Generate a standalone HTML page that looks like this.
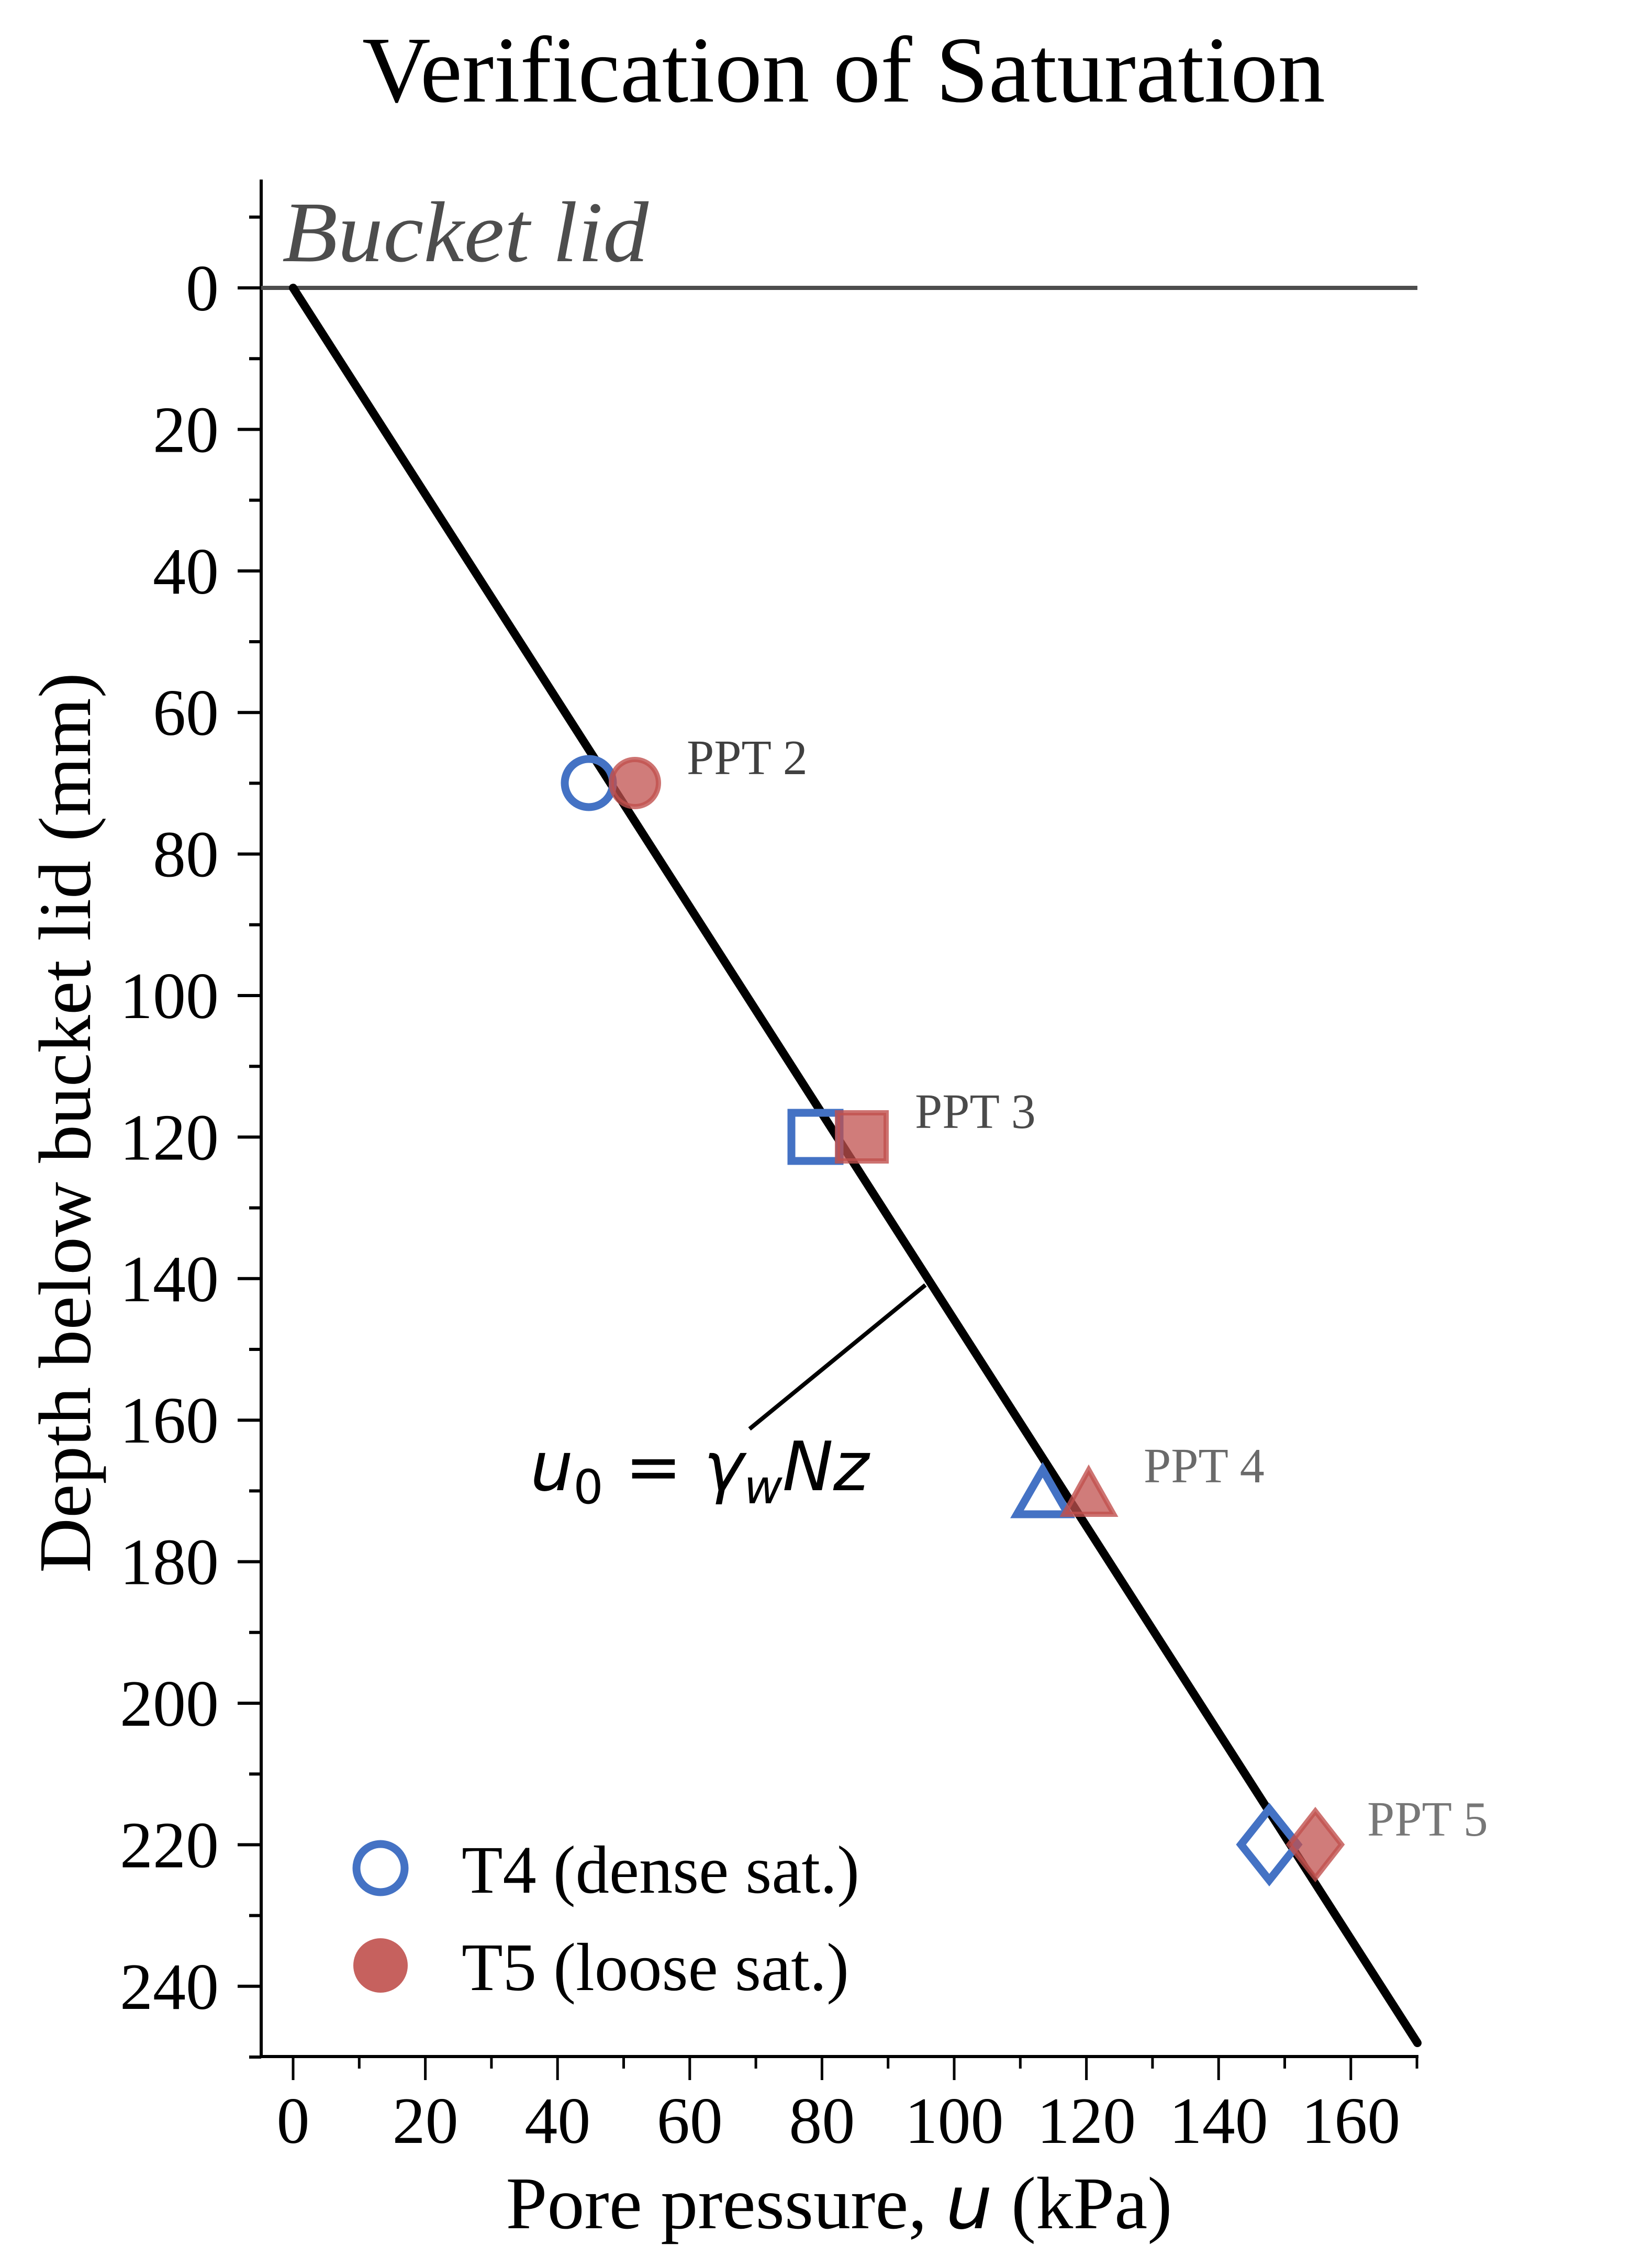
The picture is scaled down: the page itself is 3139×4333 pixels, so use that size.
<!DOCTYPE html>
<html><head><meta charset="utf-8"><style>html,body{margin:0;padding:0;background:#fff}svg{display:block}</style></head>
<body>
<svg width="3139" height="4333" viewBox="0 0 3139 4333" xmlns="http://www.w3.org/2000/svg">
<rect width="3139" height="4333" fill="#fff"/>
<text x="1612" y="194" font-family="Liberation Serif, serif" font-size="180" text-anchor="middle" textLength="1840" lengthAdjust="spacingAndGlyphs">Verification of Saturation</text>
<g stroke="#000" stroke-width="6">
<line x1="499" y1="343" x2="499" y2="3932"/>
<line x1="496" y1="3929" x2="2710" y2="3929"/>
</g>
<g id="yt" stroke="#000" stroke-width="6"></g>
<g id="xt" stroke="#000" stroke-width="5"></g>
<g id="yl" font-family="Liberation Serif, serif" font-size="126" text-anchor="end"></g>
<g id="xl" font-family="Liberation Serif, serif" font-size="126" text-anchor="middle"></g>
<line x1="499" y1="550" x2="2708" y2="550" stroke="#4d4d4d" stroke-width="8"/>
<text x="539" y="499" font-family="Liberation Serif, serif" font-style="italic" font-size="165" fill="#4d4d4d" textLength="700" lengthAdjust="spacingAndGlyphs">Bucket lid</text>
<line x1="560" y1="550" x2="2708" y2="3903" stroke="#000" stroke-width="16" stroke-linecap="round"/>
<line x1="1432" y1="2730" x2="1768" y2="2455" stroke="#000" stroke-width="8"/>
<text x="1013" y="2847" font-family="DejaVu Sans, sans-serif" font-style="italic" font-size="130">u<tspan font-size="90" dy="25" font-style="normal">0</tspan><tspan dy="-25" font-style="normal"> = </tspan>γ<tspan font-size="90" dy="25">w</tspan><tspan dy="-25">Nz</tspan></text>
<g fill="none" stroke="#4472c4" stroke-width="15">
<circle cx="1125" cy="1496" r="46"/>
<rect x="1512" y="2126" width="92" height="92"/>
<polygon points="1992,2808 1943,2893 2041,2893"/>
<polygon points="2425,3456 2371,3524 2425,3592 2479,3524"/>
</g>
<g fill="#c0504d" fill-opacity="0.75" stroke="#c0504d" stroke-opacity="0.8" stroke-width="10">
<circle cx="1213" cy="1496" r="45"/>
<rect x="1600" y="2126" width="93" height="92"/>
<polygon points="2080,2808 2033,2893 2128,2893"/>
<polygon points="2513,3460 2463,3524 2513,3588 2563,3524"/>
</g>
<g font-family="Liberation Serif, serif" font-size="94">
<text x="1312" y="1479" fill="#404040">PPT 2</text>
<text x="1748" y="2155" fill="#4a4a4a">PPT 3</text>
<text x="2185" y="2832" fill="#6a6a6a">PPT 4</text>
<text x="2612" y="3507" fill="#777">PPT 5</text>
</g>
<circle cx="727" cy="3569" r="46" fill="none" stroke="#4472c4" stroke-width="15"/>
<circle cx="727" cy="3755" r="52" fill="#c0504d" fill-opacity="0.9"/>
<g font-family="Liberation Serif, serif" font-size="130">
<text x="882" y="3616" textLength="760" lengthAdjust="spacingAndGlyphs">T4 (dense sat.)</text>
<text x="882" y="3802" textLength="740" lengthAdjust="spacingAndGlyphs">T5 (loose sat.)</text>
</g>
<text x="1603" y="4257" font-family="Liberation Serif, serif" font-size="142" text-anchor="middle">Pore pressure, <tspan font-family="DejaVu Sans, sans-serif" font-style="italic">u</tspan> (kPa)</text>
<text transform="translate(172,2145) rotate(-90)" font-family="Liberation Serif, serif" font-size="142" text-anchor="middle" textLength="1720" lengthAdjust="spacingAndGlyphs">Depth below bucket lid (mm)</text>
<script>
var ns="http://www.w3.org/2000/svg";
function el(p,t,a,tx){var e=document.createElementNS(ns,t);for(var k in a)e.setAttribute(k,a[k]);if(tx!==undefined)e.textContent=tx;document.getElementById(p).appendChild(e);}
for(var z=-10;z<=250;z+=10){var y=550+z*13.52;var maj=(z%20===0);el("yt","line",{x1:maj?454:476,y1:y,x2:499,y2:y});if(maj&&z>=0&&z<=240)el("yl","text",{x:418,y:y+43},String(z));}
for(var u=0;u<=170;u+=10){var x=560+u*12.63;var maj=(u%20===0);el("xt","line",{x1:x,y1:3929,x2:x,y2:maj?3974:3952});if(maj)el("xl","text",{x:x,y:4094},String(u));}
</script>
</svg>
</body></html>
